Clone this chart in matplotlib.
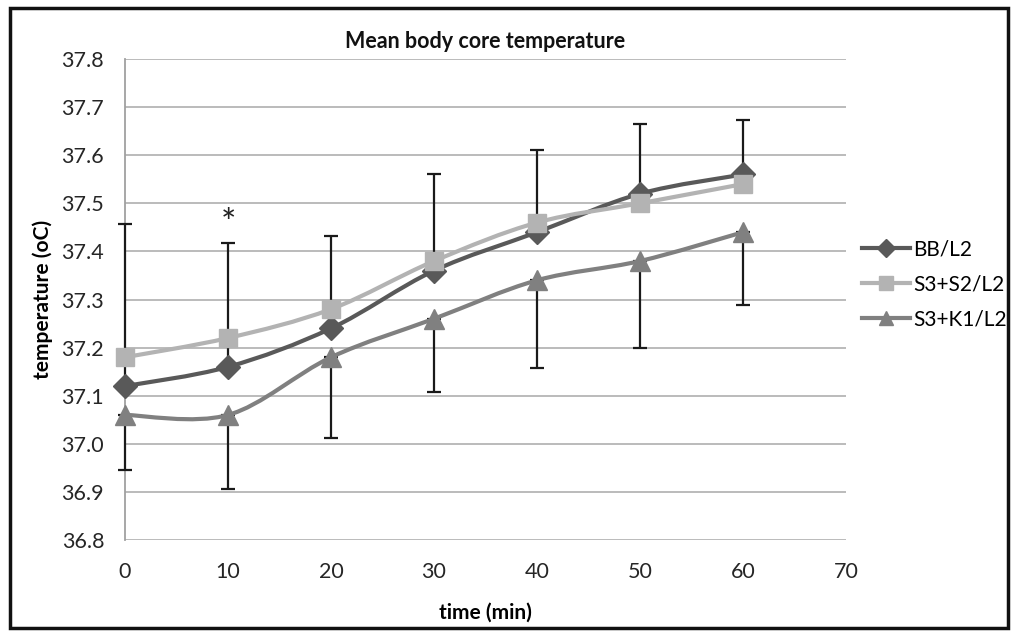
import matplotlib.pyplot as plt
from matplotlib.path import Path
from matplotlib.patches import PathPatch, Rectangle
from matplotlib.lines import Line2D

plt.rcParams['font.family'] = ['Lato', 'DejaVu Sans']

# data
time_min = [0, 10, 20, 30, 40, 50, 60]
bb_l2 = [37.12, 37.16, 37.24, 37.36, 37.44, 37.52, 37.56]
s3s2_l2 = [37.18, 37.22, 37.28, 37.38, 37.46, 37.50, 37.54]
s3k1_l2 = [37.06, 37.06, 37.18, 37.26, 37.34, 37.38, 37.44]
# upper error bars (BB/L2) and lower error bars (S3+K1/L2)
bb_err_up = [0.338, 0.257, 0.192, 0.202, 0.171, 0.144, 0.113]
s3k1_err_down = [0.115, 0.153, 0.167, 0.153, 0.182, 0.180, 0.152]
y_ticks = [36.8, 36.9, 37.0, 37.1, 37.2, 37.3, 37.4, 37.5, 37.6, 37.7, 37.8]
x_ticks = [0, 10, 20, 30, 40, 50, 60, 70]

series = [
    ('BB/L2', bb_l2, '#595959', 'D', 12),
    ('S3+S2/L2', s3s2_l2, '#b3b3b3', 's', 13.5),
    ('S3+K1/L2', s3k1_l2, '#808080', '^', 14),
]


def smooth_path(xs, ys, t=1 / 6):
    # Catmull-Rom style bezier through the data points (like Excel smoothed lines)
    verts = [(xs[0], ys[0])]
    codes = [Path.MOVETO]
    n = len(xs)
    for i in range(n - 1):
        x0, y0 = (xs[i - 1], ys[i - 1]) if i > 0 else (xs[i], ys[i])
        x1, y1 = xs[i], ys[i]
        x2, y2 = xs[i + 1], ys[i + 1]
        x3, y3 = (xs[i + 2], ys[i + 2]) if i + 2 < n else (x2, y2)
        c1 = (x1 + (x2 - x0) * t, y1 + (y2 - y0) * t)
        c2 = (x2 - (x3 - x1) * t, y2 - (y3 - y1) * t)
        verts += [c1, c2, (x2, y2)]
        codes += [Path.CURVE4] * 3
    return Path(verts, codes)


fig = plt.figure(figsize=(10.18, 6.36), dpi=100)
ax = fig.add_axes([0.1228, 0.1509, 0.7083, 0.7563])

# error bars
for vals, err in [(bb_l2, [[0] * 7, bb_err_up]), (s3k1_l2, [s3k1_err_down, [0] * 7])]:
    eb = ax.errorbar(time_min, vals, yerr=err, fmt='none', ecolor='#1a1a1a',
                     elinewidth=1.6, capsize=5, capthick=1.6, zorder=2.6)
    for art in eb.lines[1] + eb.lines[2]:
        art.set_clip_on(False)

handles = []
for name, vals, color, marker, ms in series:
    ax.add_patch(PathPatch(smooth_path(time_min, vals), fill=False,
                           edgecolor=color, lw=3, zorder=3, clip_on=False))
    ax.plot(time_min, vals, linestyle='none', marker=marker, markersize=ms,
            color=color, zorder=4, clip_on=False)
    handles.append(Line2D([], [], color=color, lw=3, marker=marker,
                          markersize=ms * 0.75, label=name))

ax.text(10, 37.456, '*', ha='center', va='center', fontsize=26, color='#222222')

ax.set_xlim(0, 70)
ax.set_ylim(36.8, 37.8)
ax.set_xticks(x_ticks)
ax.set_yticks(y_ticks)
ax.set_yticklabels([f'{v:.1f}' for v in y_ticks])
ax.tick_params(axis='both', length=0, labelsize=15.5, colors='#262626')
ax.tick_params(axis='x', pad=16)
ax.tick_params(axis='y', pad=15)
ax.grid(axis='y', color='#b5b5b5', lw=1.3)
for s in ['top', 'right', 'bottom']:
    ax.spines[s].set_visible(False)
ax.spines['left'].set_color('#a0a0a0')
ax.spines['left'].set_linewidth(1.3)

ax.set_title('Mean body core temperature', fontsize=15.5, fontweight='bold',
             color='#111111', pad=8)
ax.set_xlabel('time (min)', fontsize=15, fontweight='bold', labelpad=15)
ax.set_ylabel('temperature (oC)', fontsize=15, fontweight='bold', labelpad=6)

fig.legend(handles=handles, loc='upper left', bbox_to_anchor=(0.8468, 0.624),
           frameon=False, fontsize=15, handlelength=2.3, labelspacing=0.72,
           handletextpad=0.15, borderpad=0, borderaxespad=0)

fig.add_artist(Rectangle((0.01, 0.012), 0.98, 0.976, transform=fig.transFigure,
                         fill=False, edgecolor='#111111', lw=2.5))

fig.savefig('out.png', dpi=100)
